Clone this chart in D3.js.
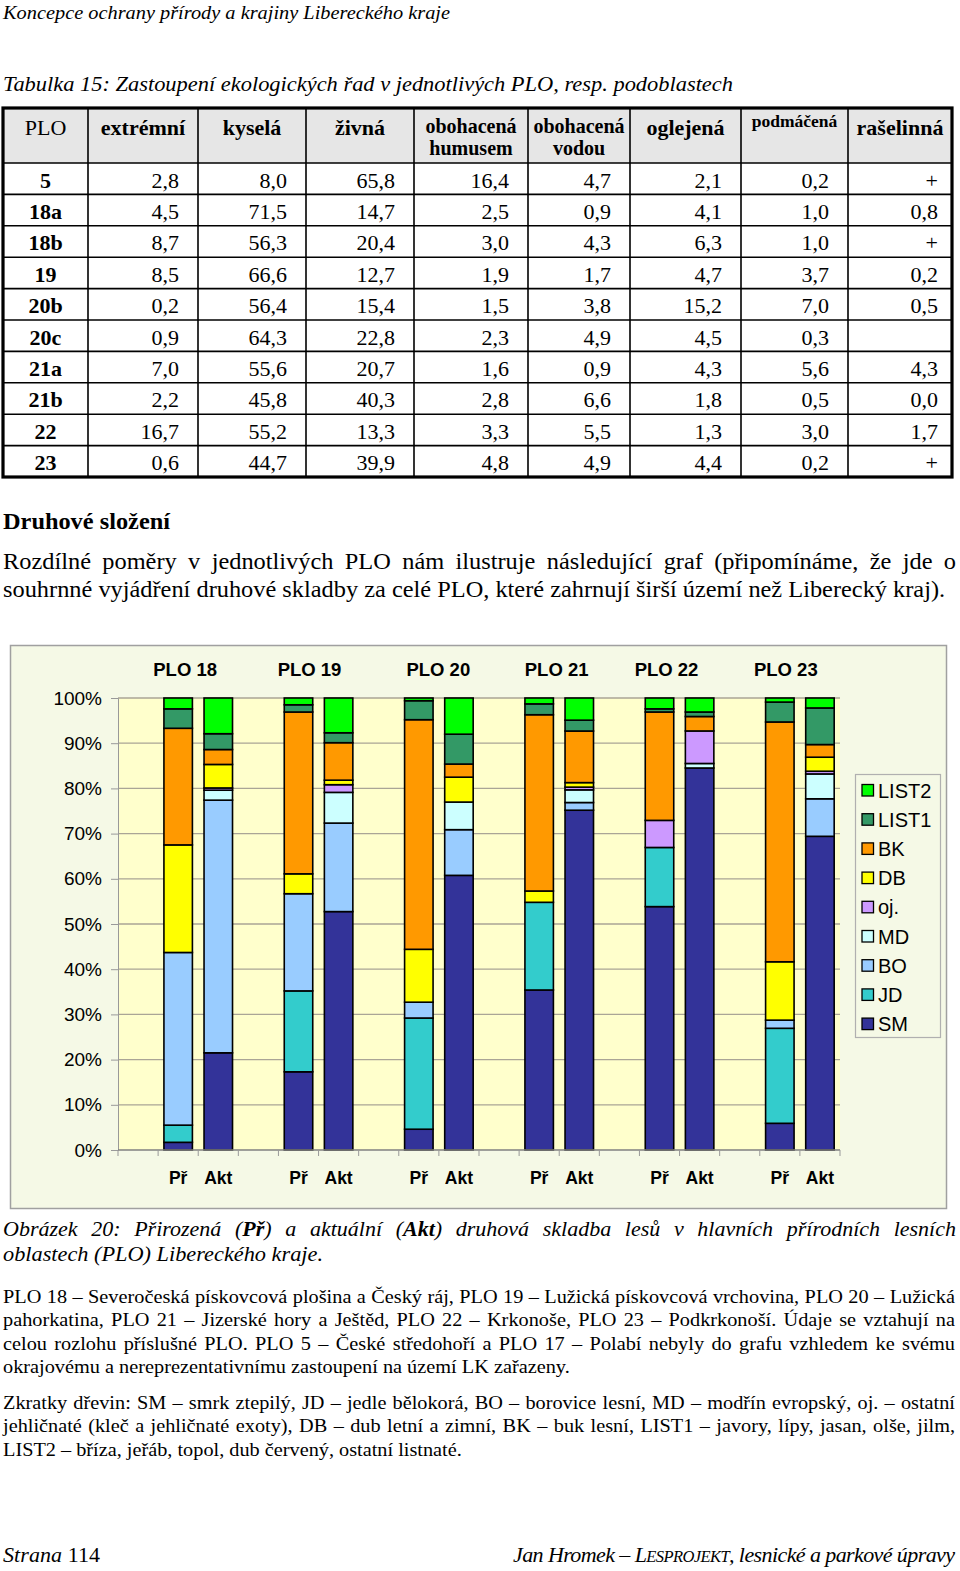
<!DOCTYPE html>
<html><head><meta charset="utf-8">
<script src="https://cdn.jsdelivr.net/npm/d3@7"></script>
<style>
body{margin:0;background:#fff}
svg{display:block}
</style>
</head><body>
<svg id="page" width="960" height="1571"></svg>
<script>
// ---------------- DATA ----------------
const groups = ["PLO 18","PLO 19","PLO 20","PLO 21","PLO 22","PLO 23"];
const kinds = ["Př","Akt"];
const species = ["SM","JD","BO","MD","oj.","DB","BK","LIST1","LIST2"];
// bar order: 18Př,18Akt,19Př,19Akt,20Př,20Akt,21Př,21Akt,22Př,22Akt,23Př,23Akt
const SM    = [1.7,21.5,17.3,52.8, 4.6,60.7,35.4,75.1,53.9,84.6, 5.9,69.4];
const JD    = [3.8, 0.0,17.9, 0.0,24.6, 0.0,19.4, 0.0,13.1, 0.0,21.0, 0.0];
const BO    = [38.2,55.9,21.5,19.6,3.5,10.1, 0.0, 1.7, 0.0, 0.0, 1.8, 8.3];
const MD    = [0.0, 2.2, 0.0, 6.8, 0.0, 6.1, 0.0, 2.8, 0.0, 1.0, 0.0, 5.5];
const OJ    = [0.0, 0.5, 0.0, 1.7, 0.0, 0.0, 0.0, 0.6, 6.0, 7.2, 0.0, 0.6];
const DB    = [23.8,5.2, 4.4, 1.0,11.7, 5.5, 2.5, 1.0, 0.0, 0.0,12.9, 3.1];
const BK    = [25.8,3.3,35.8, 8.3,50.8, 2.9,39.0,11.4,24.0, 3.2,53.0, 2.8];
const LIST1 = [4.3, 3.5, 1.6, 2.2, 4.2, 6.6, 2.4, 2.4, 0.7, 1.0, 4.4, 8.1];
const LIST2 = [2.4, 7.9, 1.5, 7.7, 0.6, 8.0, 1.3, 4.9, 2.4, 3.1, 0.9, 2.2];
const speciesColors = ["#333399","#33CCCC","#99CCFF","#CCFFFF","#CC99FF","#FFFF00","#FF9900","#339966","#00FF00"];
const yTicks = [0,0.1,0.2,0.3,0.4,0.5,0.6,0.7,0.8,0.9,1.0];

// table
const tableHead = ["PLO","extrémní","kyselá","živná","obohacená|humusem","obohacená|vodou","oglejená","podmáčená","rašelinná"];
const tablePLO = ["5","18a","18b","19","20b","20c","21a","21b","22","23"];
const tableRows = [
 ["2,8","8,0","65,8","16,4","4,7","2,1","0,2","+"],
 ["4,5","71,5","14,7","2,5","0,9","4,1","1,0","0,8"],
 ["8,7","56,3","20,4","3,0","4,3","6,3","1,0","+"],
 ["8,5","66,6","12,7","1,9","1,7","4,7","3,7","0,2"],
 ["0,2","56,4","15,4","1,5","3,8","15,2","7,0","0,5"],
 ["0,9","64,3","22,8","2,3","4,9","4,5","0,3",""],
 ["7,0","55,6","20,7","1,6","0,9","4,3","5,6","4,3"],
 ["2,2","45,8","40,3","2,8","6,6","1,8","0,5","0,0"],
 ["16,7","55,2","13,3","3,3","5,5","1,3","3,0","1,7"],
 ["0,6","44,7","39,9","4,8","4,9","4,4","0,2","+"]
];

// ---------------- PAGE ----------------
const svg = d3.select("#page");
svg.append("rect").attr("width",960).attr("height",1571).attr("fill","#fff");
const SERIF = "'Liberation Serif','Times New Roman',serif";
const SANS = "'Liberation Sans',Arial,sans-serif";

function line(x, y, parts, o) {
  const t = (o.parent || svg).append("text").attr("x", x).attr("y", y)
    .attr("font-family", o.family || SERIF).attr("font-size", o.size)
    .attr("fill", "#000");
  if (o.anchor) t.attr("text-anchor", o.anchor);
  if (o.len) t.attr("textLength", o.len).attr("lengthAdjust", o.adjust || "spacing");
  if (typeof parts === "string") parts = [[parts, {}]];
  let full = "";
  parts.forEach(([s, st]) => {
    full += s;
    const ts = t.append("tspan").text(s);
    if (st.i || o.italic) ts.attr("font-style", "italic");
    if (st.b || o.bold) ts.attr("font-weight", "bold");
    if (st.size) ts.attr("font-size", st.size);
  });
  if (o.justify) {
    const w = t.node().getComputedTextLength();
    const n = (full.match(/ /g) || []).length;
    if (n > 0) t.attr("word-spacing", (o.justify - w) / n);
  }
  return t;
}
// paragraph: the last line (unjustified in the original) calibrates a horizontal stretch
function paragraph(lines, x, y0, dy, size) {
  const last = lines[lines.length - 1];
  const probe = line(0, -100, last[0], {size});
  const k = last[1] / probe.node().getComputedTextLength();
  probe.remove();
  const g = svg.append("g").attr("transform", `translate(${x},0) scale(${k},1)`);
  lines.forEach(([s, w], i) => {
    const isLast = i === lines.length - 1;
    line(0, y0 + i * dy, s, {size, parent: g, justify: isLast ? null : w / k});
  });
}

// header
line(3, 19, "Koncepce ochrany přírody a krajiny Libereckého kraje", {size:19, italic:true, len:447, adjust:"spacingAndGlyphs"});
line(3, 91, "Tabulka 15: Zastoupení ekologických řad v jednotlivých PLO, resp. podoblastech", {size:22, italic:true, len:730, adjust:"spacingAndGlyphs"});

// ---------------- TABLE ----------------
const colX = [3, 88, 198, 306, 414, 528, 630, 741, 848, 952];
const tTop = 108, hBot = 163, tBot = 477;
const rowH = (tBot - hBot) / tableRows.length;
const tg = svg.append("g");
tg.append("rect").attr("x", colX[0]).attr("y", tTop).attr("width", colX[9]-colX[0]).attr("height", hBot-tTop).attr("fill", "#e6e6e6");
for (let i = 0; i < tableRows.length; i++) {
  const yy = hBot + i * rowH;
  tg.append("line").attr("x1", colX[0]).attr("x2", colX[9]).attr("y1", yy).attr("y2", yy).attr("stroke", "#000").attr("stroke-width", 1.6);
}
colX.slice(1, 9).forEach(cx => tg.append("line").attr("x1", cx).attr("x2", cx).attr("y1", tTop).attr("y2", tBot).attr("stroke", "#000").attr("stroke-width", 1.6));
tg.append("rect").attr("x", colX[0]).attr("y", tTop).attr("width", colX[9]-colX[0]).attr("height", tBot-tTop).attr("fill", "none").attr("stroke", "#000").attr("stroke-width", 3.2);

tableHead.forEach((h, i) => {
  const cx = (colX[i] + colX[i+1]) / 2;
  const t = tg.append("text").attr("x", cx).attr("text-anchor", "middle").attr("font-family", SERIF).attr("font-weight", i === 0 ? "normal" : "bold");
  if (h.includes("|")) {
    const [a, b] = h.split("|");
    t.attr("font-size", 20);
    t.append("tspan").attr("x", cx).attr("y", 133).text(a);
    t.append("tspan").attr("x", cx).attr("y", 155).text(b);
  } else if (h === "podmáčená") {
    t.attr("font-size", 17.5).attr("y", 127).text(h);
  } else {
    t.attr("font-size", 22).attr("y", 135).text(h);
  }
});
tablePLO.forEach((p, r) => {
  const yy = hBot + r * rowH + 24.5;
  tg.append("text").attr("x", (colX[0]+colX[1])/2).attr("y", yy).attr("text-anchor", "middle")
    .attr("font-family", SERIF).attr("font-weight", "bold").attr("font-size", 22).text(p);
  tableRows[r].forEach((v, c) => {
    tg.append("text").attr("x", colX[c+2] - (c === 7 ? 14 : 19)).attr("y", yy).attr("text-anchor", "end")
      .attr("font-family", SERIF).attr("font-size", 22).text(v);
  });
});

// ---------------- TEXT ABOVE CHART ----------------
line(3, 529, "Druhové složení", {size:23, bold:true, len:167, adjust:"spacingAndGlyphs"});
paragraph([
  ["Rozdílné poměry v jednotlivých PLO nám ilustruje následující graf (připomínáme, že jde o", 953],
  ["souhrnné vyjádření druhové skladby za celé PLO, které zahrnují širší území než Liberecký kraj).", 943]
], 3, 569, 28, 22.5);

// ---------------- CHART ----------------
const cg = svg.append("g");
cg.append("rect").attr("x", 10.5).attr("y", 645.5).attr("width", 936).attr("height", 563)
  .attr("fill", "#f5f9e6").attr("stroke", "#a0a0a0").attr("stroke-width", 1.5);

const plotL = 118, plotR = 840, plotT = 698, plotB = 1150;
const slots = [];
groups.forEach((g, i) => { slots.push("gap" + i); kinds.forEach(k => slots.push(g + "|" + k)); });
const x = d3.scaleBand().domain(slots).range([plotL, plotR]).paddingInner(0.29).paddingOuter(0.145);
const y = d3.scaleLinear().domain([0, 1]).range([plotB, plotT]);

cg.append("rect").attr("x", plotL).attr("y", plotT).attr("width", plotR - plotL).attr("height", plotB - plotT).attr("fill", "#ffffcc");
cg.append("g").selectAll("line").data(yTicks.filter(d => d > 0)).join("line")
  .attr("x1", plotL).attr("x2", plotR).attr("y1", d => y(d)).attr("y2", d => y(d))
  .attr("stroke", "#aaa596").attr("stroke-width", 1.3);

const barKeys = [];
groups.forEach(g => kinds.forEach(k => barKeys.push(g + "|" + k)));
const seriesArrays = [SM, JD, BO, MD, OJ, DB, BK, LIST1, LIST2];
const table = barKeys.map((key, i) => {
  const o = { key };
  species.forEach((s, j) => o[s] = seriesArrays[j][i]);
  return o;
});
const stacked = d3.stack().keys(species).offset(d3.stackOffsetExpand)(table);
const color = d3.scaleOrdinal().domain(species).range(speciesColors);

cg.append("g").selectAll("g").data(stacked).join("g").attr("fill", d => color(d.key))
  .selectAll("rect").data(d => d.filter(p => p[1] - p[0] > 0)).join("rect")
  .attr("x", d => x(d.data.key)).attr("width", x.bandwidth())
  .attr("y", d => y(d[1])).attr("height", d => y(d[0]) - y(d[1]))
  .attr("stroke", "#000").attr("stroke-width", 1.6);

const yAxis = d3.axisLeft(y).tickValues(yTicks).tickFormat(d3.format(".0%")).tickSize(7).tickPadding(9);
const ya = cg.append("g").attr("transform", `translate(${plotL},0)`).call(yAxis);
ya.select(".domain").attr("stroke", "#999");
ya.selectAll(".tick line").attr("stroke", "#999");
ya.selectAll(".tick text").attr("font-family", SANS).attr("font-size", 19).attr("fill", "#000");

const step = x.step();
const bounds = d3.range(slots.length + 1).map(i => plotL + i * step);
cg.append("line").attr("x1", plotL).attr("x2", plotR).attr("y1", plotB).attr("y2", plotB).attr("stroke", "#808080").attr("stroke-width", 1.3);
cg.append("g").selectAll("line").data(bounds).join("line")
  .attr("x1", d => d).attr("x2", d => d).attr("y1", plotB).attr("y2", plotB + 6).attr("stroke", "#999");

cg.append("g").selectAll("text").data(barKeys).join("text")
  .attr("x", d => x(d) + x.bandwidth() / 2).attr("y", 1184).attr("text-anchor", "middle")
  .attr("font-family", SANS).attr("font-weight", "bold").attr("font-size", 17.5).text(d => d.split("|")[1]);
// group titles sit as free text boxes in the original; shift relative to the Př bar centre
const titleShift = [7, 11, 19.5, 17.5, 7, 6];
cg.append("g").selectAll("text").data(groups).join("text")
  .attr("x", (g, i) => x(g + "|Př") + x.bandwidth() / 2 + titleShift[i]).attr("y", 676).attr("text-anchor", "middle")
  .attr("font-family", SANS).attr("font-weight", "bold").attr("font-size", 18.5).text(g => g);

const lg = cg.append("g");
lg.append("rect").attr("x", 855.5).attr("y", 774.5).attr("width", 85).attr("height", 263)
  .attr("fill", "#f5f9e6").attr("stroke", "#b0b0b0").attr("stroke-width", 1.2);
species.slice().reverse().forEach((s, i) => {
  const cy = 790.5 + i * 29.2;
  lg.append("rect").attr("x", 862).attr("y", cy - 6).attr("width", 11.5).attr("height", 11.5)
    .attr("fill", color(s)).attr("stroke", "#000").attr("stroke-width", 1.3);
  lg.append("text").attr("x", 878).attr("y", cy + 7).attr("font-family", SANS).attr("font-size", 20).text(s);
});

// ---------------- TEXT BELOW CHART ----------------
line(3, 1236, [["Obrázek 20: Přirozená (",{}],["Př",{b:true}],[") a aktuální (",{}],["Akt",{b:true}],[") druhová skladba lesů v hlavních přírodních lesních",{}]], {size:22, italic:true, justify:953});
line(3, 1261, "oblastech (PLO) Libereckého kraje.", {size:22, italic:true, len:320, adjust:"spacingAndGlyphs"});

paragraph([
 ["PLO 18 – Severočeská pískovcová plošina a Český ráj, PLO 19 – Lužická pískovcová vrchovina, PLO 20 – Lužická", 952],
 ["pahorkatina, PLO 21 – Jizerské hory a Ještěd, PLO 22 – Krkonoše, PLO 23 – Podkrkonoší. Údaje se vztahují na", 952],
 ["celou rozlohu příslušné PLO. PLO 5 – České středohoří a PLO 17 – Polabí nebyly do grafu vzhledem ke svému", 952],
 ["okrajovému a nereprezentativnímu zastoupení na území LK zařazeny.", 567]
], 3, 1303, 23.5, 19);
paragraph([
 ["Zkratky dřevin: SM – smrk ztepilý, JD – jedle bělokorá, BO – borovice lesní, MD – modřín evropský, oj. – ostatní", 952],
 ["jehličnaté (kleč a jehličnaté exoty), DB – dub letní a zimní, BK – buk lesní, LIST1 – javory, lípy, jasan, olše, jilm,", 952],
 ["LIST2 – bříza, jeřáb, topol, dub červený, ostatní listnaté.", 459]
], 3, 1409, 23.5, 19);

// footer
line(3, 1562, [["Strana",{i:true}],[" 114",{}]], {size:22, len:97});
line(955, 1562, [["Jan Hromek – L",{i:true}],["ESPROJEKT",{i:true, size:16.5}],[", lesnické a parkové úpravy",{i:true}]], {size:22, anchor:"end", len:442});
</script>
</body></html>
